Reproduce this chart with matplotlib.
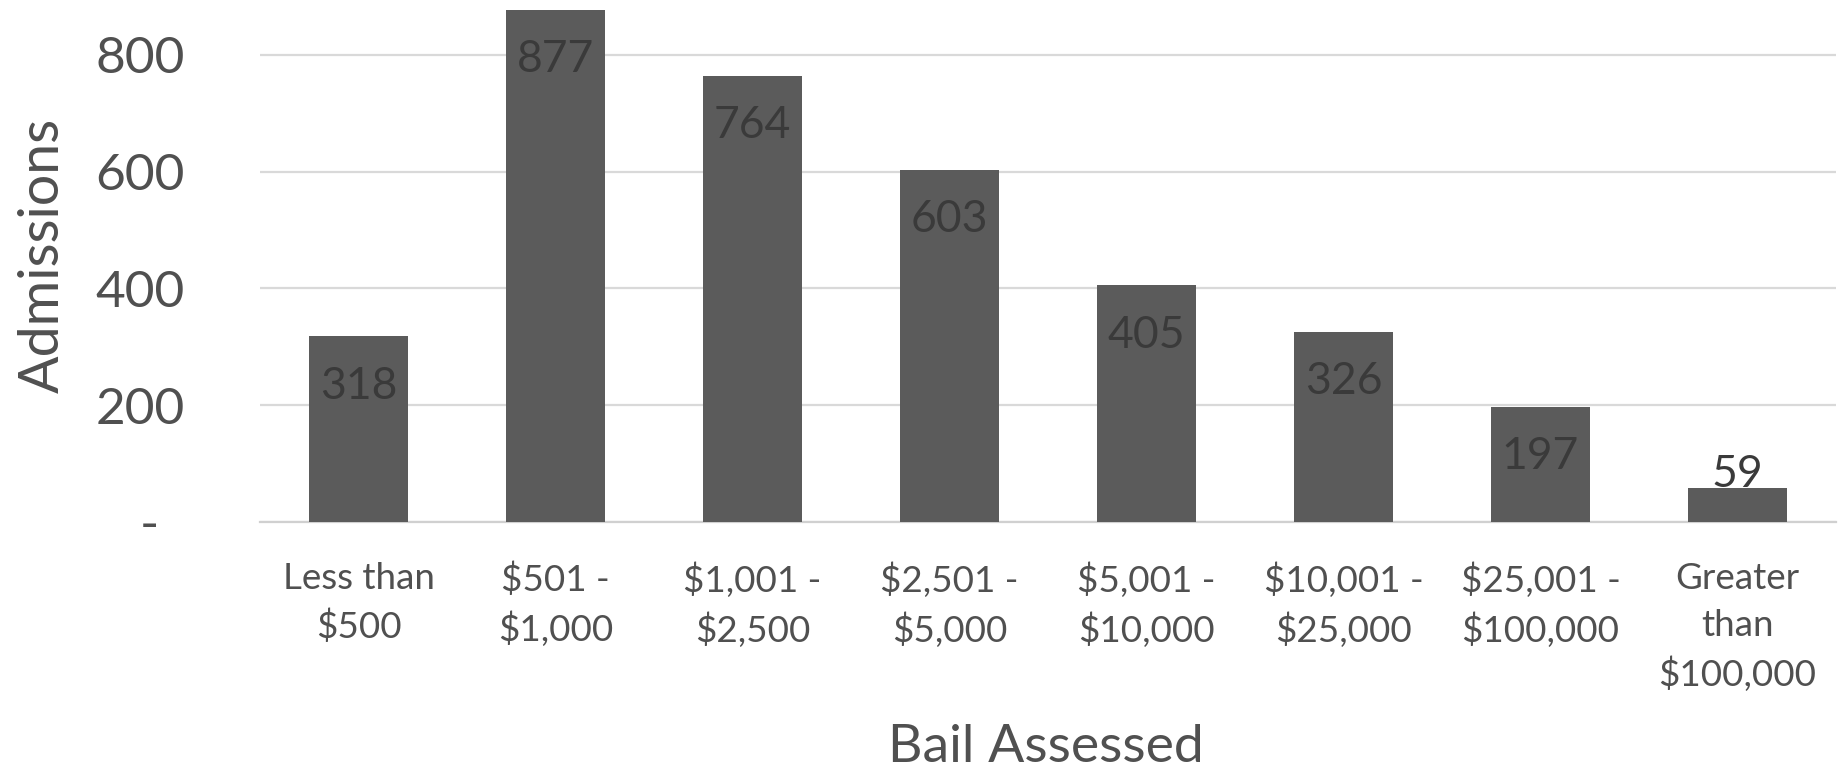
import matplotlib
matplotlib.use("Agg")
import matplotlib.pyplot as plt

categories = ["Less than\n$500", "$501 -\n$1,000", "$1,001 -\n$2,500", "$2,501 -\n$5,000",
              "$5,001 -\n$10,000", "$10,001 -\n$25,000", "$25,001 -\n$100,000",
              "Greater\nthan\n$100,000"]
admissions = [318, 877, 764, 603, 405, 326, 197, 59]
yticks = [0, 200, 400, 600, 800]
ytick_labels = ["-  ", "200", "400", "600", "800"]

plt.rcParams['font.family'] = ['Lato', 'DejaVu Sans']

W, H = 1839, 772
fig = plt.figure(figsize=(W / 100, H / 100), dpi=100)
ax_left, ax_right, ax_base = 260, 1836, 522
ymax = 890
pxu = 0.584
ax = fig.add_axes([ax_left / W, 1 - ax_base / H, (ax_right - ax_left) / W, ymax * pxu / H])

x = range(len(categories))
ax.bar(x, admissions, width=0.5, color="#5b5b5b", zorder=3)
ax.set_xlim(-0.5, len(categories) - 0.5)
ax.set_ylim(0, ymax)

ax.set_yticks(yticks)
ax.set_yticklabels(ytick_labels)
ax.yaxis.grid(True, color="#d9d9d9", linewidth=1.6, zorder=0)
ax.set_axisbelow(True)
for s in ["top", "right", "left"]:
    ax.spines[s].set_visible(False)
ax.spines["bottom"].set_color("#d0d0d0")
ax.spines["bottom"].set_linewidth(1.6)

ax.tick_params(axis="y", length=0, pad=54, labelsize=37, labelcolor="#505050")
ax.tick_params(axis="x", length=0, pad=29, labelsize=26.5, labelcolor="#505050")
ax.set_xticks(list(x))
ax.set_xticklabels(categories)
plt.setp(ax.get_xticklabels(), linespacing=1.5, va="top")

off = 50 / pxu
minc = 47 / pxu
for i, v in enumerate(admissions):
    ax.text(i, max(v - off, minc), str(v), ha="center", va="center",
            fontsize=32, color="#3a3a3a", zorder=4)

fig.text(43 / W, 1 - 255 / H, "Admissions", rotation=90, ha="center", va="center",
         fontsize=40, color="#505050")
fig.text(1046 / W, 1 - 747 / H, "Bail Assessed", ha="center", va="center",
         fontsize=38.5, color="#505050")

fig.savefig("out.png", dpi=100, facecolor="white")
